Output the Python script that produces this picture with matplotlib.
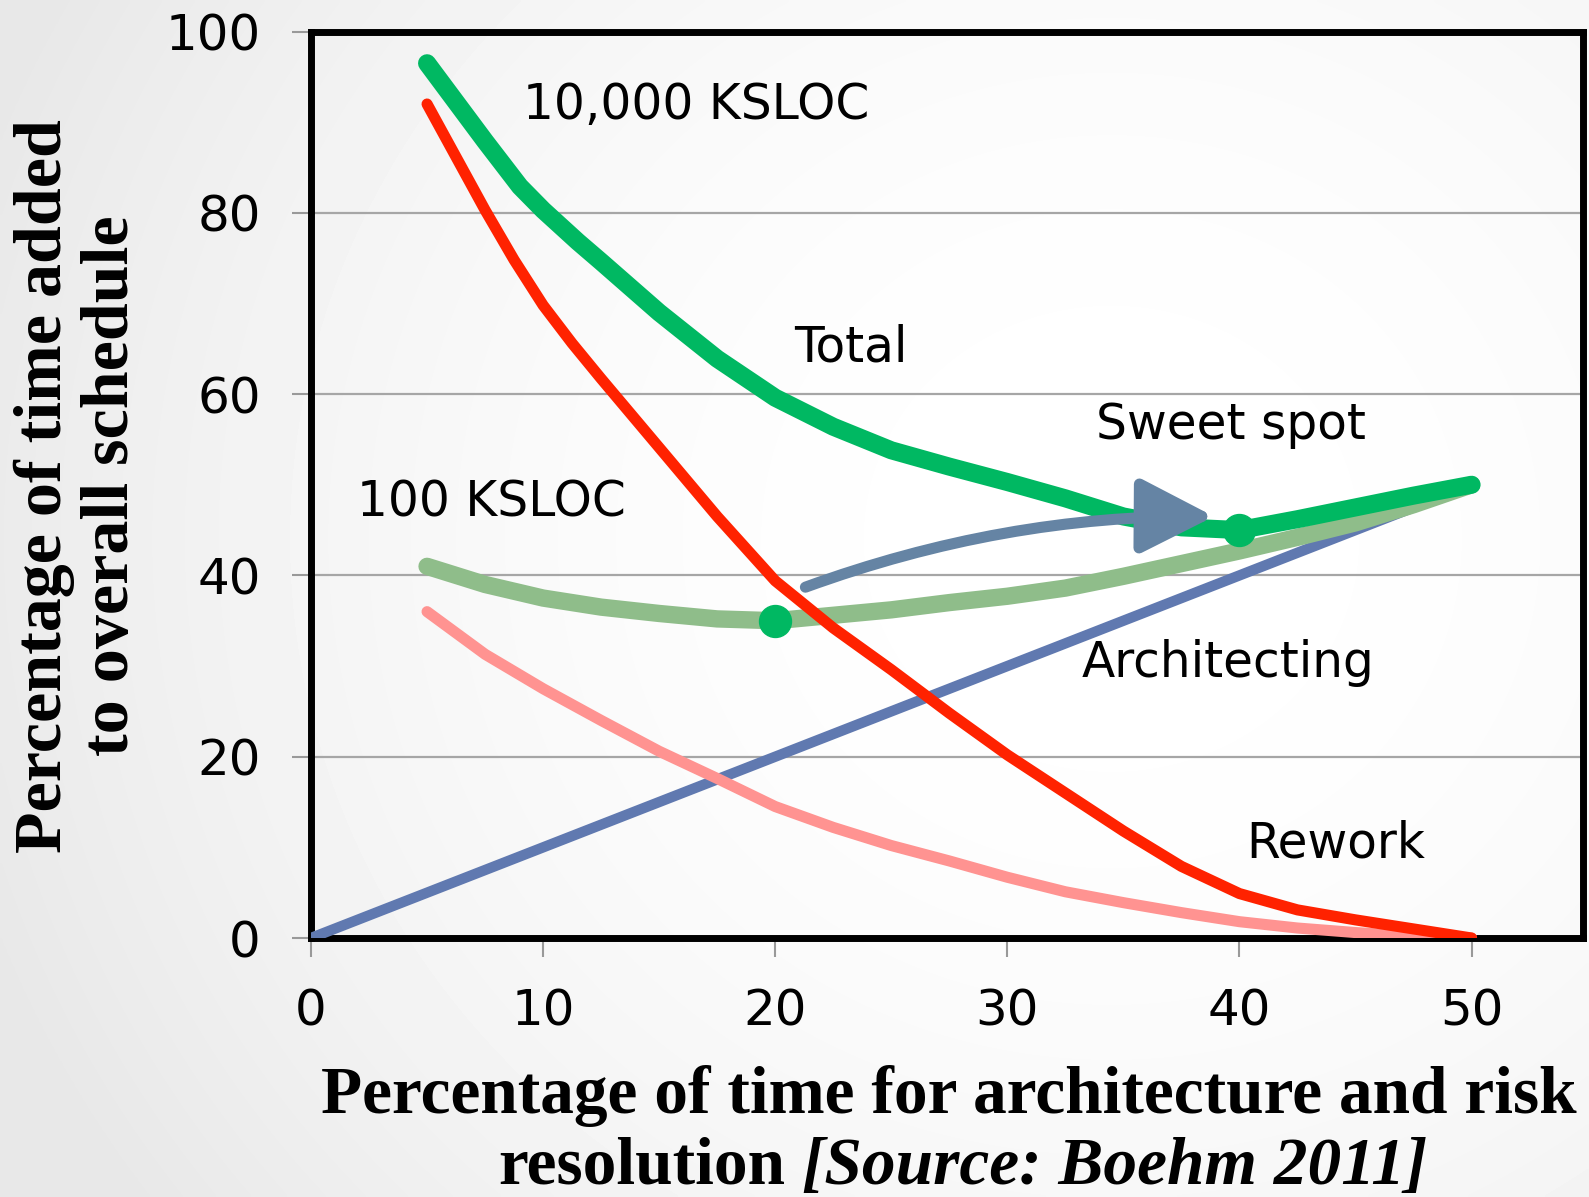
import numpy as np
import matplotlib
matplotlib.use("Agg")
import matplotlib.pyplot as plt

# --------------------------
# データ
# --------------------------
x_total_10k = [5, 7.5, 9, 10, 11.5, 12.5, 15, 17.5, 20, 22.5, 25, 27.5, 30, 32.5, 35, 37.5, 40, 42.5, 45, 47.5, 50]
total_10k = [96.5, 87.9, 82.9, 80.3, 76.8, 74.6, 69.0, 63.9, 59.6, 56.4, 53.8, 52.0, 50.3, 48.5, 46.5, 45.3, 45.0, 46.2, 47.5, 48.8, 50]

x_rework_10k = [5, 7.5, 8.75, 10, 11.25, 12.5, 15, 17.5, 20, 22.5, 25, 27.5, 30, 32.5, 35, 37.5, 40, 42.5, 45, 47.5, 50]
rework_10k = [92, 80.3, 74.8, 69.8, 65.6, 61.7, 54.1, 46.5, 39.4, 34.2, 29.6, 24.8, 20.2, 16.0, 11.8, 7.9, 4.9, 3.1, 2.0, 1.0, 0]

x_100k = [5, 7.5, 10, 12.5, 15, 17.5, 20, 22.5, 25, 27.5, 30, 32.5, 35, 37.5, 40, 42.5, 45, 47.5, 50]
total_100k = [41, 39, 37.5, 36.5, 35.8, 35.2, 35.0, 35.6, 36.2, 37.0, 37.7, 38.6, 39.9, 41.3, 42.7, 44.2, 45.8, 47.8, 50]
rework_100k = [36, 31.3, 27.5, 24, 20.6, 17.6, 14.5, 12.2, 10.2, 8.5, 6.7, 5.1, 3.9, 2.8, 1.8, 1.1, 0.6, 0.2, 0]

x_arch = [0, 50]
architecting = [0, 50]

sweet_10k = (40, 45)
sweet_100k = (20, 35)
arrow_start = (21.3, 38.7)
arrow_end = (38.9, 46.5)

labels = [
    ("10,000 KSLOC", 9.15, 90.3),
    ("Total", 20.8, 63.6),
    ("Sweet spot", 33.8, 55.1),
    ("100 KSLOC", 2.0, 46.5),
    ("Architecting", 33.2, 28.8),
    ("Rework", 40.3, 8.9),
]

GREEN = "#00b862"
RED = "#ff2200"
PINK = "#ff9391"
LGREEN = "#8fbd8a"
BLUE = "#6079b0"
ARROW = "#6584a4"

fig = plt.figure(figsize=(15.89, 11.97), dpi=100)

# 背景グラデーション
bg = fig.add_axes([0, 0, 1, 1], zorder=-10)
gx, gy = np.meshgrid(np.linspace(0, 1, 400), np.linspace(0, 1, 300))
r = np.sqrt((gx - 0.7) ** 2 + ((gy - 0.45) * 0.8) ** 2)
bg.imshow(1 - 0.09 * np.clip(r / 0.75, 0, 1) ** 2, cmap="gray", vmin=0, vmax=1,
          aspect="auto", extent=[0, 1, 0, 1], interpolation="bilinear")
bg.axis("off")

ax = fig.add_axes([311 / 1589, 1 - 938 / 1197, (1583 - 311) / 1589, (938 - 31.5) / 1197])
ax.set_facecolor("none")

ax.plot(x_arch, architecting, color=BLUE, lw=7.5, solid_capstyle="round", zorder=3)
ax.plot(x_100k, rework_100k, color=PINK, lw=8, solid_capstyle="round",
        solid_joinstyle="round", zorder=3)
ax.plot(x_100k, total_100k, color=LGREEN, lw=12.5, solid_capstyle="round",
        solid_joinstyle="round", zorder=3.5)
ax.plot(x_total_10k, total_10k, color=GREEN, lw=13, solid_capstyle="round",
        solid_joinstyle="round", zorder=4)
ax.plot(x_rework_10k, rework_10k, color=RED, lw=8, solid_capstyle="round",
        solid_joinstyle="round", zorder=5)
ax.plot(*sweet_10k, "o", ms=23, color=GREEN, zorder=6)
ax.plot(*sweet_100k, "o", ms=23, color=GREEN, zorder=4.5)

ax.annotate("", xy=arrow_end, xytext=arrow_start, zorder=7,
            arrowprops=dict(arrowstyle="-|>,head_length=45,head_width=23",
                            mutation_scale=1, connectionstyle="arc3,rad=-0.09",
                            color=ARROW, lw=8, shrinkA=0, shrinkB=0))

for txt, tx, ty in labels:
    ax.text(tx, ty, txt, fontsize=35, ha="left", va="baseline", zorder=8)

ax.set_xlim(0, 54.8)
ax.set_ylim(0, 100)
ax.set_xticks([0, 10, 20, 30, 40, 50])
ax.set_yticks([0, 20, 40, 60, 80, 100])
ax.yaxis.grid(True, color="#a6a6a6", lw=1.6)
ax.set_axisbelow(True)
ax.tick_params(direction="out", length=14, width=1.5, color="#999999",
               labelsize=36, pad=22)
for s in ax.spines.values():
    s.set_color("black")
    s.set_linewidth(5)

serif = "Liberation Serif"
fig.text(0.049, 0.594, "Percentage of time added\nto overall schedule", rotation=90,
         ha="center", va="center", fontsize=49, fontweight="bold", family=serif,
         linespacing=1.12, multialignment="center")
fig.text(0.597, 0.070, "Percentage of time for architecture and risk", ha="center",
         va="baseline", fontsize=48.5, fontweight="bold", family=serif)
fig.text(0.494, 0.011, "resolution", ha="right", va="baseline", fontsize=48.5,
         fontweight="bold", family=serif)
fig.text(0.505, 0.011, "[Source: Boehm 2011]", ha="left", va="baseline", fontsize=48.5,
         fontweight="bold", fontstyle="italic", family=serif)

fig.savefig("out.png", dpi=100)
